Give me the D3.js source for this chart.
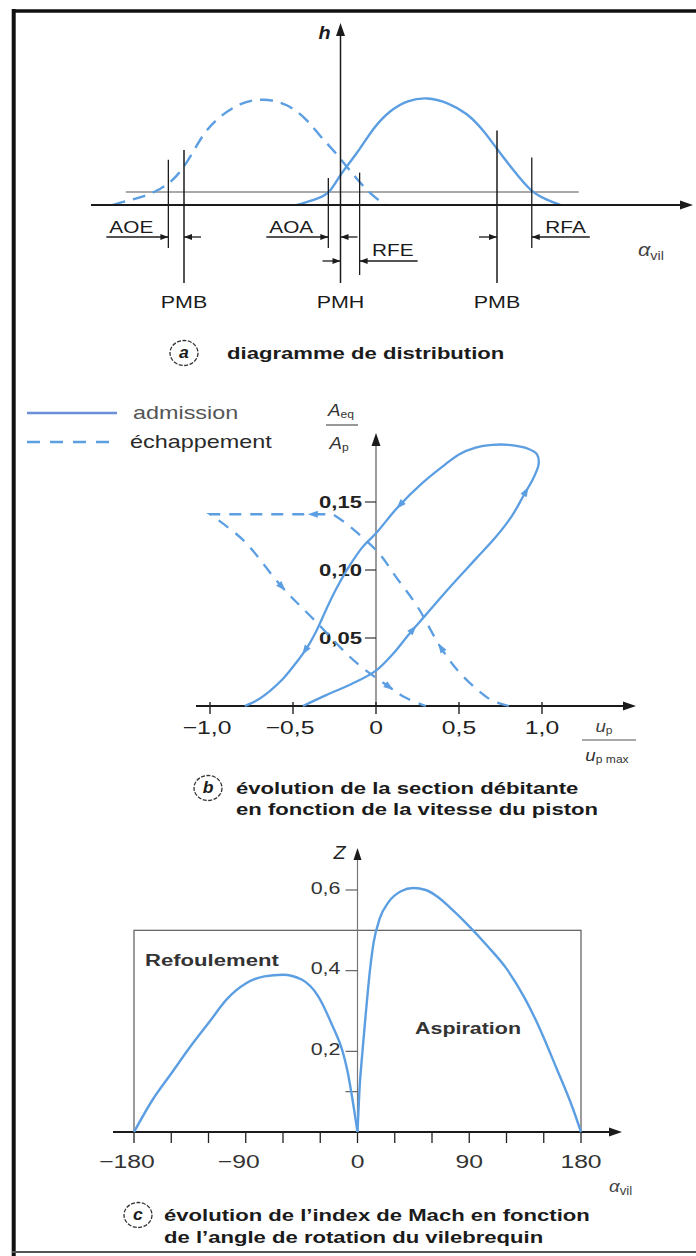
<!DOCTYPE html>
<html lang="fr">
<head>
<meta charset="utf-8">
<title>Distribution, section débitante et index de Mach</title>
<script src="https://cdn.jsdelivr.net/npm/d3@7/dist/d3.min.js"></script>
<style>
  html, body { margin: 0; padding: 0; background: #fff; }
  svg { display: block; }
  text { font-family: "Liberation Sans", Arial, Helvetica, sans-serif; }
</style>
</head>
<body>
<svg id="fig" width="696" height="1256"></svg>
<script>
// ---------- (a) valve lift h vs crank angle (degrees, PMH = 0) ----------
const admissionLift = [[-50,0],[-23,0.65],[-11.5,1.2],[0,2.9],[19.5,4.8],[38,7.2],[57.5,8.8],[77,9.7],[100,10],
  [123,9.5],[146,8.5],[164.5,6.9],[178,5.4],[199,3.2],[219,1.2],[238,0.45],[253,0]];
const exhaustLift = [[-262,0],[-247,0.35],[-230,0.7],[-207,1.4],[-188,2.6],[-173,4.4],[-158,6.6],[-141,8.1],
  [-115,9.5],[-89,9.9],[-61,9.4],[-38,7.9],[-23,6.3],[-8,5.1],[19.5,2.3],[38,0.75],[52,0]];
const liftThreshold = 1.2;
const thresholdSpan = [-247, 274];
const valveEvents = [
  { name: "AOE", deg: -198, top: 4.2, row: 0 },
  { name: "AOA", deg: -14,  top: 2.5, row: 0 },
  { name: "RFE", deg: 22,   top: 3.0, row: 1 },
  { name: "RFA", deg: 220,  top: 4.4, row: 0 }
];
const deadCentres = [
  { name: "PMB", deg: -180, top: 5.1 },
  { name: "PMH", deg: 0,    top: null },
  { name: "PMB", deg: 180,  top: 6.9 }
];
const timingSpans = [
  { label: "AOE", from: -198, to: -180, row: 0, side: "left" },
  { label: "AOA", from: -14,  to: 0,    row: 0, side: "left" },
  { label: "RFE", from: 0,    to: 22,   row: 1, side: "right" },
  { label: "RFA", from: 180,  to: 220,  row: 0, side: "right" }
];

// ---------- (b) A_eq/A_p vs u_p/u_p max ----------
const admissionLoop = [[-0.44,0],[-0.3,0.008],[-0.15,0.016],[0,0.026],[0.1,0.038],[0.2,0.053],[0.3,0.067],
  [0.45,0.088],[0.6,0.108],[0.72,0.124],[0.82,0.14],[0.89,0.155],[0.95,0.168],[0.98,0.178],[0.97,0.185],
  [0.92,0.189],[0.8,0.192],[0.7,0.192],[0.6,0.19],[0.5,0.185],[0.4,0.176],[0.28,0.164],[0.13,0.146],
  [0,0.127],[-0.08,0.117],[-0.16,0.103],[-0.24,0.086],[-0.3,0.071],[-0.36,0.055],[-0.42,0.042],
  [-0.48,0.032],[-0.56,0.02],[-0.64,0.011],[-0.72,0.004],[-0.79,0]];
// exhaust: rising branch up to the top of the opening, then the closing diagonal
const exhaustRise = [[0.8,0],[0.7,0.004],[0.62,0.011],[0.5,0.025],[0.39,0.043],[0.25,0.073],[0.12,0.095],
  [0.02,0.112],[-0.1,0.126],[-0.2,0.136],[-0.26,0.141]];
const exhaustFall = [[-1.0,0.141],[-0.8,0.122],[-0.57,0.088],[-0.37,0.063],[-0.12,0.032],[0.08,0.014],
  [0.18,0.006],[0.3,0]];
const admissionFlow = [[0.22,0.057],[0.92,0.157],[0.14,0.148],[-0.43,0.041]];
const exhaustFlow = [[0.39,0.043],[-0.38,0.141],[-0.56,0.088],[0.08,0.014]];
const bTicksX = [-1, -0.5, 0, 0.5, 1];
const bTickLabelsX = ["\u22121,0", "\u22120,5", "0", "0,5", "1,0"];
const bTicksY = [0.05, 0.10, 0.15];
const bTickLabelsY = ["0,05", "0,10", "0,15"];

// ---------- (c) Mach index Z vs crank angle ----------
const refoulement = [[-180,0],[-165,0.08],[-150,0.145],[-135,0.21],[-120,0.27],[-105,0.33],[-90,0.368],
  [-75,0.386],[-60,0.39],[-45,0.378],[-32,0.338],[-20,0.262],[-12,0.2],[-8,0.15],[-4,0.08],[0,0]];
const aspiration = [[0,0],[1.5,0.1],[4,0.2],[7,0.305],[10,0.4],[13,0.47],[18,0.53],[25,0.57],[35,0.597],
  [45,0.605],[55,0.6],[65,0.582],[75,0.555],[90,0.51],[105,0.46],[120,0.405],[135,0.33],[147,0.255],
  [160,0.16],[173,0.062],[180,0]];
const cTicksX = [-180,-150,-120,-90,-60,-30,0,30,60,90,120,150,180];
const cLabelsX = [[-180,"\u2212180"],[-90,"\u221290"],[0,"0"],[90,"90"],[180,"180"]];
const cTicksY = [0.1, 0.2, 0.4, 0.6];
const cLabelsY = [[0.2,"0,2"],[0.4,"0,4"],[0.6,"0,6"]];
const zoneBox = { from: -180, to: 180, top: 0.5 };

// ---------- drawing helpers ----------
const svg = d3.select("#fig");
const BLUE = "#5c9ee2";
const INK = "#1b1b1b";
const SX = 1.3;   // lettering is set wide

function label(g, s, x, y, o = {}) {
  const t = g.append("text")
    .attr("transform", `translate(${x},${y}) scale(${o.sx ?? SX},1)`)
    .attr("text-anchor", o.anchor || "start")
    .attr("dominant-baseline", "central")
    .attr("font-size", o.size || 17)
    .attr("fill", o.fill || INK);
  if (o.weight) t.attr("font-weight", o.weight);
  if (o.italic) t.attr("font-style", "italic");
  if (Array.isArray(s)) {
    s.forEach(p => {
      const ts = t.append("tspan").text(p.t);
      if (p.sub) ts.attr("font-size", p.size || 11).attr("font-style", "normal").attr("dy", p.dy ?? 4);
      else if (p.dy) ts.attr("dy", p.dy);
    });
  } else t.text(s);
  return t;
}
function head(g, x, y, ang, len = 12, wid = 8, fill = INK) {
  const c = Math.cos(ang), s = Math.sin(ang);
  const bx = x - len * c, by = y - len * s, px = -s * wid / 2, py = c * wid / 2;
  g.append("path").attr("d", `M${x},${y}L${bx + px},${by + py}L${bx - px},${by - py}Z`).attr("fill", fill);
}
function seg(g, x1, y1, x2, y2, stroke = INK, w = 1.4) {
  return g.append("line").attr("x1", x1).attr("y1", y1).attr("x2", x2).attr("y2", y2)
    .attr("stroke", stroke).attr("stroke-width", w);
}
function caption(g, letter, cx, cy, lines, x0, dy) {
  g.append("ellipse").attr("cx", cx).attr("cy", cy).attr("rx", 14).attr("ry", 12.5)
    .attr("fill", "none").attr("stroke", "#333").attr("stroke-width", 1.3).attr("stroke-dasharray", "4,1.5");
  label(g, letter, cx, cy, { anchor: "middle", weight: "bold", italic: true, size: 16, sx: 1.1 });
  lines.forEach((l, i) => label(g, l, x0, cy + i * dy, { weight: "bold", size: 17 }));
}
function flowArrows(g, path, targets, sx, sy) {
  const node = path.node(), L = node.getTotalLength();
  targets.forEach(([u, a]) => {
    const tx = sx(u), ty = sy(a);
    let best = 0, bd = Infinity;
    for (let l = 0; l <= L; l += 0.5) {
      const p = node.getPointAtLength(l), d = (p.x - tx) ** 2 + (p.y - ty) ** 2;
      if (d < bd) { bd = d; best = l; }
    }
    const p0 = node.getPointAtLength(Math.max(0, best - 3)), p1 = node.getPointAtLength(Math.min(L, best + 3));
    const tip = node.getPointAtLength(Math.min(L, best + 5));
    head(g, tip.x, tip.y, Math.atan2(p1.y - p0.y, p1.x - p0.x), 10, 7, BLUE);
  });
}

// ---------- frame ----------
seg(svg, 12, 11, 696, 11, "#111", 3.4);
seg(svg, 13.7, 9, 13.7, 1256, "#111", 4);
seg(svg, 12, 1252, 696, 1252, "#555", 2);

// ---------- panel (a) ----------
{
  const g = svg.append("g");
  const xa = d3.scaleLinear().domain([-180, 180]).range([184, 497]);
  const ya = d3.scaleLinear().domain([0, 10]).range([205, 97]);
  const line = d3.line().x(d => xa(d[0])).y(d => ya(d[1])).curve(d3.curveBasis);

  seg(g, xa(thresholdSpan[0]), ya(liftThreshold), xa(thresholdSpan[1]), ya(liftThreshold), "#555", 1.1);
  g.append("path").attr("d", line(exhaustLift)).attr("fill", "none").attr("stroke", BLUE)
    .attr("stroke-width", 2.4).attr("stroke-dasharray", "13,8");
  g.append("path").attr("d", line(admissionLift)).attr("fill", "none").attr("stroke", BLUE).attr("stroke-width", 2.4);

  // crank-angle axis and lift axis
  seg(g, 91, ya(0), 684, ya(0), INK, 2);
  head(g, 693, ya(0), 0, 13, 9);
  seg(g, xa(0), 283, xa(0), 33, INK, 1.5);
  head(g, xa(0), 23, -Math.PI / 2, 13, 9);
  label(g, "h", xa(0) - 22, 33, { weight: "bold", italic: true, size: 18, sx: 1.1 });
  label(g, [{ t: "\u03b1" }, { t: "vil", sub: true, size: 12, dy: 5 }], 638, 250, { italic: true, size: 18, fill: "#444", sx: 1.2 });

  const rowY = [237, 261], rowLabelY = [227, 250], rowBottom = [248, 275];
  valveEvents.forEach(e => seg(g, xa(e.deg), ya(e.top), xa(e.deg), rowBottom[e.row], INK, 1.3));
  deadCentres.forEach(d => {
    if (d.top !== null) seg(g, xa(d.deg), ya(d.top), xa(d.deg), 283, INK, 1.5);
    label(g, d.name, xa(d.deg), 302, { anchor: "middle", size: 16.5 });
  });
  timingSpans.forEach(s => {
    const y = rowY[s.row], a = xa(s.from), b = xa(s.to);
    const leadL = s.side === "left" ? 62 : 18, leadR = s.side === "right" ? 58 : 17;
    seg(g, a - leadL, y, a, y, INK, 1.3); head(g, a, y, 0, 8, 6);
    seg(g, b + leadR, y, b, y, INK, 1.3); head(g, b, y, Math.PI, 8, 6);
    if (s.side === "left") label(g, s.label, a - 59, rowLabelY[s.row], { size: 16 });
    else label(g, s.label, b + 54, rowLabelY[s.row], { size: 16, anchor: "end" });
  });
  caption(g, "a", 184, 353, ["diagramme de distribution"], 227, 20);
}

// ---------- panel (b) ----------
{
  const g = svg.append("g");
  const xb = d3.scaleLinear().domain([-1, 1]).range([210, 542]);
  const yb = d3.scaleLinear().domain([0, 0.15]).range([706, 502]);
  const line = d3.line().x(d => xb(d[0])).y(d => yb(d[1])).curve(d3.curveCatmullRom.alpha(0.5));

  // legend
  seg(g, 27, 413, 117, 413, "#6a8ed8", 2.6);
  label(g, "admission", 133, 413, { size: 18, fill: "#555" });
  seg(g, 27, 442, 117, 442, BLUE, 2.6).attr("stroke-dasharray", "13,10");
  label(g, "\u00e9chappement", 130, 442, { size: 18, fill: "#2a2a2a" });

  // axes
  seg(g, xb(0), yb(0), xb(0), 445, "#666", 1.3);
  head(g, xb(0), 433, -Math.PI / 2, 13, 9);
  seg(g, 196, yb(0), 626, yb(0), INK, 2.2);
  head(g, 636, yb(0), 0, 13, 9);
  bTicksY.forEach((v, i) => {
    seg(g, xb(0) - 11, yb(v), xb(0), yb(v), "#333", 1.2);
    label(g, bTickLabelsY[i], xb(0) - 14, yb(v), { anchor: "end", weight: "bold", size: 17, fill: "#222" });
  });
  bTicksX.forEach((v, i) => {
    seg(g, xb(v), yb(0) - 4, xb(v), yb(0) + 8, "#222", 1.4);
    label(g, bTickLabelsX[i], xb(v) - (v < 0 ? 3 : 0), 728, { anchor: "middle", size: 19, fill: "#222" });
  });

  // axis titles as fractions
  label(g, [{ t: "A" }, { t: "eq", sub: true, size: 11 }], 341, 410, { anchor: "middle", italic: true, size: 17, fill: "#333", sx: 1.1 });
  seg(g, 326, 425, 358, 425, "#444", 1.1);
  label(g, [{ t: "A" }, { t: "p", sub: true, size: 11 }], 339, 443, { anchor: "middle", italic: true, size: 17, fill: "#333", sx: 1.1 });
  label(g, [{ t: "u" }, { t: "p", sub: true, size: 11 }], 604, 726, { anchor: "middle", italic: true, size: 17, fill: "#444", sx: 1.1 });
  seg(g, 582, 740, 636, 740, "#555", 1.1);
  label(g, [{ t: "u" }, { t: "p max", sub: true, size: 11 }], 607, 755, { anchor: "middle", italic: true, size: 17, fill: "#333", sx: 1.1 });

  const adm = g.append("path").attr("d", line(admissionLoop)).attr("fill", "none")
    .attr("stroke", BLUE).attr("stroke-width", 2.3);
  // the top of the exhaust loop is a straight run joining the two branches
  const echD = line(exhaustRise) + line(exhaustFall).replace(/^M/, "L");
  const ech = g.append("path").attr("d", echD).attr("fill", "none")
    .attr("stroke", BLUE).attr("stroke-width", 2.3).attr("stroke-dasharray", "12,9");
  flowArrows(g, adm, admissionFlow, xb, yb);
  flowArrows(g, ech, exhaustFlow, xb, yb);

  caption(g, "b", 208, 788, ["\u00e9volution de la section d\u00e9bitante", "en fonction de la vitesse du piston"], 236, 21);
}

// ---------- panel (c) ----------
{
  const g = svg.append("g");
  const xc = d3.scaleLinear().domain([-180, 180]).range([134, 581]);
  const yc = d3.scaleLinear().domain([0, 0.6]).range([1132, 890]);
  const line = d3.line().x(d => xc(d[0])).y(d => yc(d[1])).curve(d3.curveMonotoneX);

  g.append("rect").attr("x", xc(zoneBox.from)).attr("y", yc(zoneBox.top))
    .attr("width", xc(zoneBox.to) - xc(zoneBox.from)).attr("height", yc(0) - yc(zoneBox.top))
    .attr("fill", "none").attr("stroke", "#666").attr("stroke-width", 1.3);

  seg(g, xc(0), yc(0), xc(0), 858, "#777", 1.2);
  head(g, xc(0), 848, -Math.PI / 2, 12, 8);
  label(g, "Z", xc(0) - 24, 853, { italic: true, size: 18, fill: "#222", sx: 1.1 });
  cTicksY.forEach(v => seg(g, xc(0) - 12, yc(v), xc(0), yc(v), "#555", 1.1));
  cLabelsY.forEach(([v, s]) => label(g, s, xc(0) - 17, yc(v) - 2, { anchor: "end", size: 16.5, fill: "#333" }));

  seg(g, 113, yc(0), 612, yc(0), INK, 2.2);
  head(g, 622, yc(0), 0, 13, 9);
  cTicksX.forEach(v => seg(g, xc(v), yc(0), xc(v), yc(0) + 11, "#222", 1.3));
  cLabelsX.forEach(([v, s]) => label(g, s, xc(v) - (v < 0 ? 7 : 0), 1162, { anchor: "middle", size: 19, fill: "#333" }));
  label(g, [{ t: "\u03b1" }, { t: "vil", sub: true, size: 12, dy: 5 }], 609, 1186, { italic: true, size: 17, fill: "#444", sx: 1.1 });

  label(g, "Refoulement", 145, 960, { weight: "bold", size: 17, fill: "#333" });
  label(g, "Aspiration", 415, 1028, { weight: "bold", size: 16.5, fill: "#333" });

  g.append("path").attr("d", line(refoulement)).attr("fill", "none").attr("stroke", BLUE).attr("stroke-width", 2.4);
  g.append("path").attr("d", line(aspiration)).attr("fill", "none").attr("stroke", BLUE).attr("stroke-width", 2.4);

  caption(g, "c", 138, 1215, ["\u00e9volution de l\u2019index de Mach en fonction", "de l\u2019angle de rotation du vilebrequin"], 164, 22);
}
</script>
</body>
</html>
